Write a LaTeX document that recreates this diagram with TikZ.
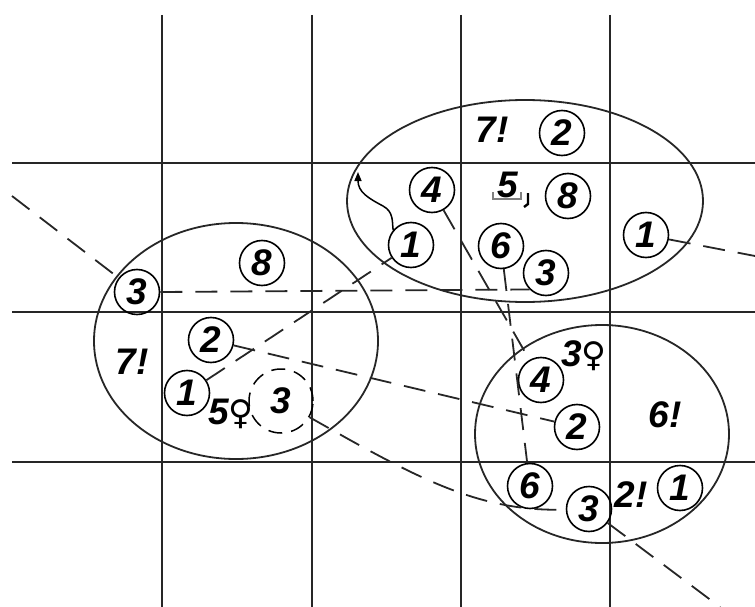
\documentclass[tikz,border=0pt]{standalone}
\usepackage{fontspec}
\setsansfont{Liberation Sans}
\newfontfamily\venusfont{DejaVu Sans}
\usetikzlibrary{arrows.meta}
\tikzset{
  gridline/.style={line width=2.4pt,black!85},
  zone/.style={line width=1.8pt,black!85},
  tag/.style={circle,draw,line width=1.6pt,minimum size=45pt,inner sep=0pt,
    font=\fontsize{37}{37}\sffamily\bfseries\itshape},
  lbl/.style={inner sep=0pt,font=\fontsize{37}{37}\sffamily\bfseries\itshape},
  link/.style={line width=1.8pt,black!85,dash pattern=on 22pt off 13pt},
  wiggle/.style={line width=1.5pt,-{Triangle[length=9pt,width=7pt]}}
}
\newcommand{\venus}{{\venusfont\bfseries\fontsize{34}{34}\selectfont ♀}}

\begin{document}
\begin{tikzpicture}[x=1pt,y=-1pt]
  \useasboundingbox (0,0) rectangle (755,607);
  \foreach \gx in {162,312,461,610}
    \draw[gridline] (\gx,15) -- (\gx,607);
  \foreach \gy in {163,312,462}
    \draw[gridline] (12,\gy) -- (755,\gy);
  % three zones
  \draw[zone] (525,201) ellipse [x radius=178, y radius=101];
  \draw[zone] (236,341) ellipse [x radius=142, y radius=118];
  \draw[zone] (602,434) ellipse [x radius=127, y radius=109];
  % top zone
  \node[lbl] (T7) at (492,130) {7!};
  \node[tag] (T2) at (562,133) {2};
  \node[tag] (T4) at (432,190) {4};
  \node[lbl] (T5) at (508,185) {5};
  \node[tag] (T8) at (568,196) {8};
  \node[tag] (T1) at (411,245) {1};
  \node[tag] (T6) at (501,246) {6};
  \node[tag] (T3) at (546,273) {3};
  \node[tag] (R1) at (646,235) {1};
  \draw[gray,line width=1.3pt] (493,192) -- (493,199) -- (521,199) -- (521,192);
  \draw[line width=2.4pt] (528,193) -- (528,204) -- (524,207);
  % left zone
  \node[tag] (L3) at (137,292) {3};
  \node[tag] (L8) at (262,263) {8};
  \node[tag] (L2) at (211,340) {2};
  \node[lbl] (L7) at (132,362) {7!};
  \node[tag] (L1) at (187,393) {1};
  \node[lbl] (L5) at (231,414) {5\venus};
  \node[circle,draw,line width=1.5pt,dash pattern=on 14pt off 9pt,
    minimum size=64pt,inner sep=0pt,
    font=\fontsize{37}{37}\sffamily\bfseries\itshape] (L3b) at (281,401) {3};
  % lower right zone
  \node[lbl] (B3f) at (584,356) {3\venus};
  \node[tag] (B4) at (541,380) {4};
  \node[lbl] (B6x) at (665,415) {6!};
  \node[tag] (B2) at (577,427) {2};
  \node[tag] (B6) at (530,486) {6};
  \node[tag] (B3) at (589,509) {3};
  \node[lbl] (B2x) at (631,495) {2!};
  \node[tag] (B1) at (680,488) {1};
  % links
  \coordinate (inL) at (12,196);
  \coordinate (outR) at (755,256);
  \coordinate (outB) at (720,607);
  \draw[link] (inL) -- (L3);
  \draw[link] (L3.east) -- (T3.south west);
  \draw[link] (R1) -- (outR);
  \draw[link] (L1) -- (T1);
  \draw[link] (L2) -- (B2);
  \draw[link] (L3b) .. controls (420,480) and (480,512) .. (B3);
  \draw[link] (B3) -- (outB);
  \draw[link] (T4) -- (B4);
  \draw[link] (T6) -- (B6);
  \draw[wiggle] (T1.140) .. controls (392,222) and (394,212) .. (383,206)
    .. controls (368,198) and (358,192) .. (358,172);
\end{tikzpicture}
\end{document}
